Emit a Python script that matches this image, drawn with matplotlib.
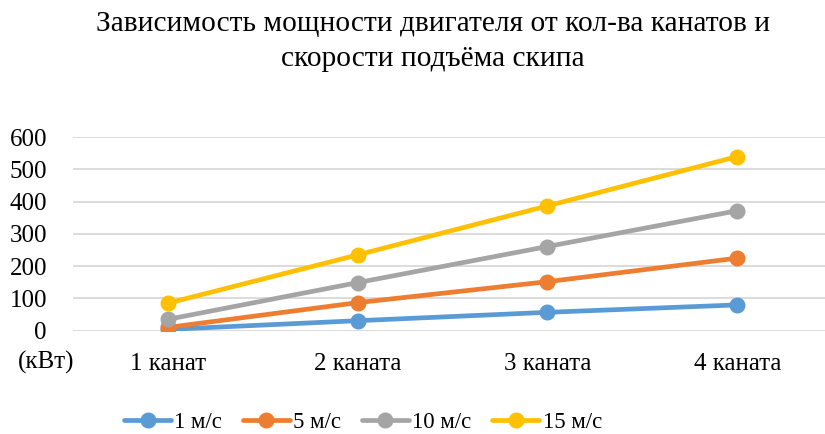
import matplotlib.pyplot as plt

# Мощность двигателя (кВт) по числу канатов для разных скоростей подъёма
categories = ["1 канат", "2 каната", "3 каната", "4 каната"]
speed_labels = ["1 м/с", "5 м/с", "10 м/с", "15 м/с"]
power_1 = [4, 31, 57, 80]
power_5 = [10, 87, 152, 225]
power_10 = [35, 149, 261, 372]
power_15 = [85, 235, 387, 540]
yticks = [0, 100, 200, 300, 400, 500, 600]

colors = ["#5B9BD5", "#ED7D31", "#A5A5A5", "#FFC000"]

plt.rcParams['font.family'] = ['Liberation Serif', 'DejaVu Serif']

fig = plt.figure(figsize=(8.25, 4.34), dpi=100)
ax = fig.add_axes([0.088, 0.238, 0.921, 0.446])

x = range(len(categories))
for vals, lab, c in zip([power_1, power_5, power_10, power_15], speed_labels, colors):
    ax.plot(x, vals, color=c, lw=3.4, marker="o", ms=10.5, label=lab,
            solid_capstyle="round", zorder=3)

ax.set_xlim(-0.5, 3.5)
ax.set_ylim(0, 600)
ax.set_yticks(yticks)
ax.set_xticks(list(x))
ax.set_xticklabels(categories, fontsize=18)
ax.tick_params(axis="y", labelsize=18, length=0, pad=18.5, colors="#000000")
ax.tick_params(axis="x", length=0, pad=16)
ax.grid(axis="y", color="#D9D9D9", lw=1.3)
ax.set_axisbelow(True)
for s in ax.spines.values():
    s.set_visible(False)

fig.text(0.056, 0.165, "(кВт)", fontsize=18, ha="center", va="center")

fig.suptitle("Зависимость мощности двигателя от кол-ва канатов и\nскорости подъёма скипа",
             fontsize=21.2, x=0.525, y=0.975, linespacing=1.45)

fig.legend(loc="center", bbox_to_anchor=(0.44, 0.027), ncol=4, frameon=False,
           fontsize=16.5, handlelength=2.05, handletextpad=0.15, columnspacing=0.9)

fig.savefig("out.png", dpi=100)
